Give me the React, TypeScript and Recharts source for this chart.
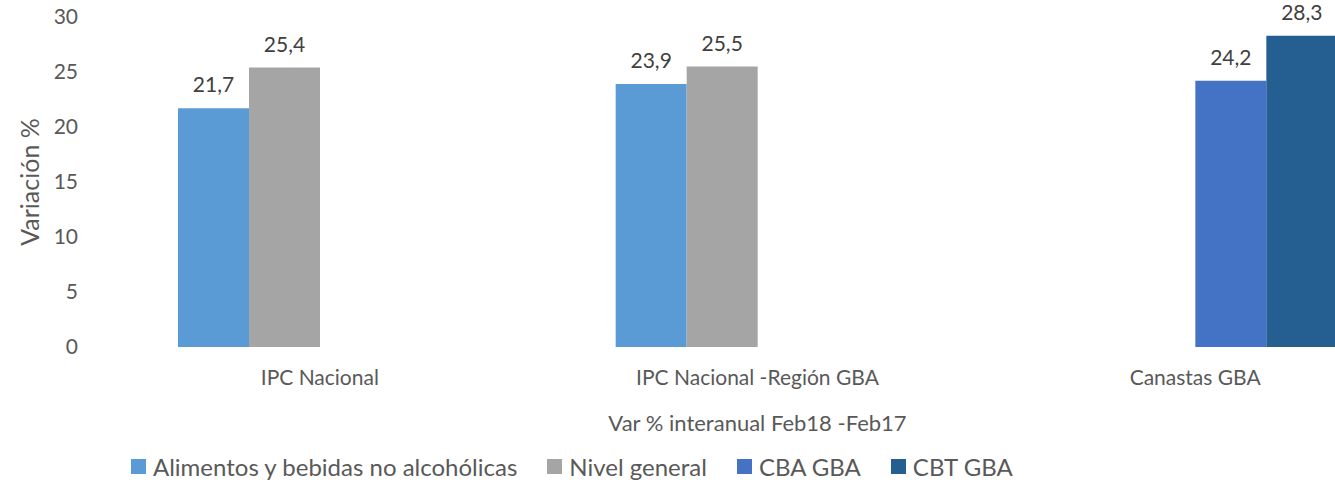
import React from 'react';
import { BarChart, Bar, XAxis, YAxis, LabelList, Legend } from 'recharts';

// valores (var % interanual Feb18 - Feb17)
const categories = ['IPC Nacional', 'IPC Nacional -Región GBA', 'Canastas GBA'];
const alimentos = [21.7, 23.9, null];
const nivelGeneral = [25.4, 25.5, null];
const cbaGba = [null, null, 24.2];
const cbtGba = [null, null, 28.3];
const yTicks = [0, 5, 10, 15, 20, 25, 30];

const FONT = 'Lato, "Noto Sans", sans-serif';
const AXIS_GRAY = '#595959';
const LABEL_GRAY = '#404040';

const series = [
  { key: 'alimentos', name: 'Alimentos y bebidas no alcohólicas', color: '#5B9BD5' },
  { key: 'nivelGeneral', name: 'Nivel general', color: '#A5A5A5' },
  { key: 'cbaGba', name: 'CBA GBA', color: '#4472C4' },
  { key: 'cbtGba', name: 'CBT GBA', color: '#255E91' },
];

const chartData = categories.map((name, i) => ({
  name,
  alimentos: alimentos[i],
  nivelGeneral: nivelGeneral[i],
  cbaGba: cbaGba[i],
  cbtGba: cbtGba[i],
}));

const formatValue = (v: any) => (v == null ? '' : Number(v).toFixed(1).replace('.', ','));

// leyenda propia: mismo orden que las series, cuadrados de 15px
const renderLegend = (props: any) => {
  const payload = [...(props.payload || [])].sort(
    (a: any, b: any) =>
      series.findIndex((s) => s.name === a.value) - series.findIndex((s) => s.name === b.value)
  );
  return (
    <div
      style={{
        display: 'flex',
        alignItems: 'center',
        height: 45,
        boxSizing: 'border-box',
        paddingTop: 14,
        paddingLeft: 131,
        fontFamily: FONT,
        fontSize: 24,
        color: AXIS_GRAY,
        whiteSpace: 'nowrap',
      }}
    >
      {payload.map((entry: any) => (
        <div key={entry.value} style={{ display: 'flex', alignItems: 'center', marginRight: 30 }}>
          <span style={{ display: 'inline-block', width: 15, height: 15, background: entry.color, marginRight: 7 }} />
          <span>{entry.value}</span>
        </div>
      ))}
    </div>
  );
};

export default function App() {
  return (
    <div
      style={{
        position: 'fixed',
        top: 0,
        left: 0,
        width: 1335,
        height: 482,
        overflow: 'hidden',
        background: '#fff',
      }}
    >
      <BarChart
        width={1414}
        height={482}
        data={chartData}
        margin={{ top: 17, right: 0, bottom: 0, left: 0 }}
        barCategoryGap={77}
        barGap={0}
      >
        <XAxis
          dataKey="name"
          interval={0}
          axisLine={false}
          tickLine={false}
          tickSize={0}
          tickMargin={23}
          height={90}
          tick={{ fill: AXIS_GRAY, fontSize: 21, fontFamily: FONT }}
          label={{
            value: 'Var % interanual Feb18 -Feb17',
            position: 'insideBottom',
            offset: 6,
            fill: AXIS_GRAY,
            fontSize: 22,
            fontFamily: FONT,
          }}
        />
        <YAxis
          domain={[0, 30]}
          ticks={yTicks}
          width={101}
          axisLine={false}
          tickLine={false}
          tickSize={0}
          tickMargin={23}
          tick={{ fill: AXIS_GRAY, fontSize: 21, fontFamily: FONT }}
          label={{
            value: 'Variación %',
            angle: -90,
            position: 'center',
            dx: -20,
            fill: AXIS_GRAY,
            fontSize: 25,
            fontFamily: FONT,
          }}
        />
        <Legend verticalAlign="bottom" align="left" height={45} wrapperStyle={{ left: 0 }} content={renderLegend} />
        {series.map((s) => (
          <Bar key={s.key} dataKey={s.key} name={s.name} fill={s.color} isAnimationActive={false}>
            <LabelList
              dataKey={s.key}
              position="top"
              offset={16}
              formatter={formatValue}
              fill={LABEL_GRAY}
              fontSize={21}
              fontFamily={FONT}
            />
          </Bar>
        ))}
      </BarChart>
    </div>
  );
}
